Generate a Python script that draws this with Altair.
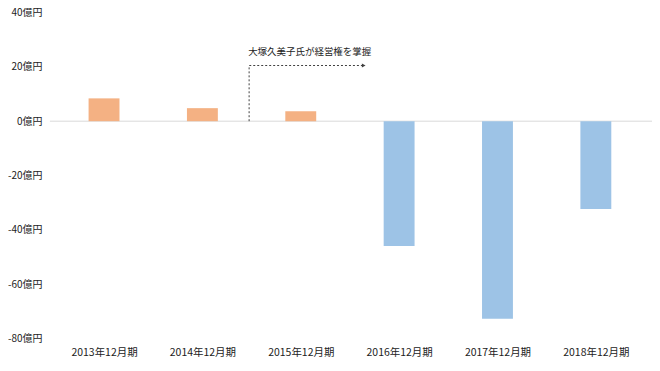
import altair as alt
import pandas as pd

periods = ["2013年12月期", "2014年12月期", "2015年12月期", "2016年12月期", "2017年12月期", "2018年12月期"]
values = [8.4, 4.8, 3.7, -45.9, -72.7, -32.3]
colors = ["#F4B183", "#F4B183", "#F4B183", "#9DC3E6", "#9DC3E6", "#9DC3E6"]
y_ticks = [-80, -60, -40, -20, 0, 20, 40]

ann_text = "大塚久美子氏が経営権を掌握"
ann_x = [1.475, 1.475, 2.64]
ann_y = [0, 20.5, 20.5]

df = pd.DataFrame({"idx": list(range(len(periods))), "period": periods, "value": values, "color": colors})

font = "Noto Sans CJK JP"
label_expr = "[" + ",".join("'" + p + "'" for p in periods) + "][datum.value]"

xscale = alt.Scale(domain=[-0.5, 5.5], nice=False, zero=False)
yscale = alt.Scale(domain=[-80, 40], nice=False)

bars = alt.Chart(df).mark_bar(size=31).encode(
    x=alt.X("idx:Q", scale=xscale,
            axis=alt.Axis(values=list(range(len(periods))), labelExpr=label_expr, title=None,
                          domain=False, ticks=False, grid=False, labelFont=font, labelFontSize=10.5,
                          labelColor="#222222", labelPadding=9, labelFlush=False)),
    y=alt.Y("value:Q", scale=yscale,
            axis=alt.Axis(values=y_ticks, labelExpr="datum.value + '億円'", title=None,
                          domain=False, ticks=False, grid=False, labelFont=font, labelFontSize=10,
                          labelColor="#222222", labelPadding=8)),
    y2=alt.datum(0),
    color=alt.Color("color:N", scale=None),
)

zero = alt.Chart(pd.DataFrame({"y": [0]})).mark_rule(color="#D9D9D9", strokeWidth=1).encode(
    y=alt.Y("y:Q", scale=yscale), x=alt.value(0), x2=alt.value(604)
)

ann_df = pd.DataFrame({"x": ann_x, "y": ann_y, "o": [0, 1, 2]})
ann_line = alt.Chart(ann_df).mark_line(color="#404040", strokeDash=[2, 2], strokeWidth=1).encode(
    x=alt.X("x:Q", scale=xscale), y=alt.Y("y:Q", scale=yscale), order="o:Q"
)
arrow = alt.Chart(ann_df.iloc[[2]]).mark_point(shape="triangle-right", filled=True, size=18,
                                               color="#404040", opacity=1).encode(
    x=alt.X("x:Q", scale=xscale), y=alt.Y("y:Q", scale=yscale)
)
text = alt.Chart(pd.DataFrame({"x": [ann_x[0] - 0.01], "y": [25.3], "t": [ann_text]})).mark_text(
    align="left", baseline="middle", font=font, fontSize=9.5, color="#222222"
).encode(x=alt.X("x:Q", scale=xscale), y=alt.Y("y:Q", scale=yscale), text="t:N")

chart = alt.layer(zero, bars, ann_line, arrow, text).properties(
    width=602, height=327,
    autosize=alt.AutoSizeParams(type="none"),
    padding={"left": 42, "top": 4, "right": 2, "bottom": 20},
).configure_view(stroke=None)

chart.save("out.html", embed_options={"renderer": "svg", "actions": False})
